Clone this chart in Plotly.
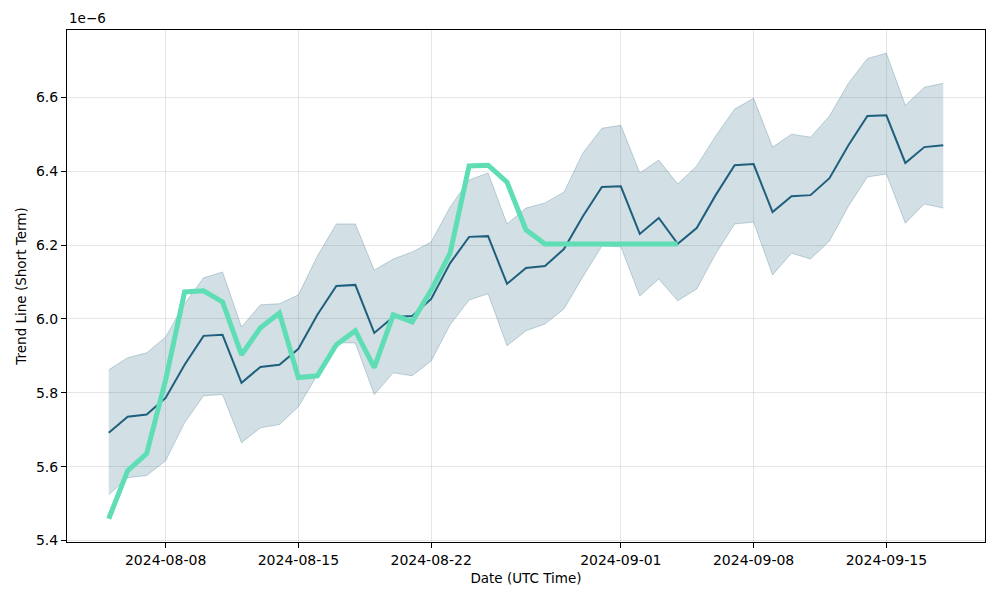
import pandas as pd
import plotly.graph_objects as go

dates = pd.date_range("2024-08-05", "2024-09-18", freq="D")

trend_mean = [5.692, 5.735, 5.741, 5.786, 5.876, 5.954, 5.957, 5.827, 5.870, 5.876,
              5.919, 6.011, 6.089, 6.092, 5.962, 6.005, 6.008, 6.054, 6.151, 6.222,
              6.224, 6.095, 6.138, 6.143, 6.189, 6.278, 6.357, 6.359, 6.230, 6.273,
              6.203, 6.246, 6.335, 6.416, 6.419, 6.289, 6.332, 6.335, 6.381, 6.470,
              6.549, 6.551, 6.422, 6.465, 6.470]

trend_upper = [5.862, 5.895, 5.908, 5.951, 6.041, 6.111, 6.127, 5.978, 6.038, 6.041,
               6.065, 6.170, 6.257, 6.257, 6.132, 6.162, 6.181, 6.208, 6.303, 6.376,
               6.395, 6.257, 6.300, 6.314, 6.343, 6.449, 6.516, 6.524, 6.395, 6.430,
               6.365, 6.414, 6.495, 6.568, 6.597, 6.465, 6.500, 6.492, 6.549, 6.638,
               6.705, 6.719, 6.578, 6.627, 6.638]

trend_lower = [5.524, 5.570, 5.576, 5.616, 5.719, 5.792, 5.795, 5.665, 5.705, 5.714,
               5.762, 5.849, 5.935, 5.935, 5.795, 5.854, 5.846, 5.886, 5.984, 6.051,
               6.068, 5.927, 5.968, 5.986, 6.027, 6.114, 6.197, 6.195, 6.062, 6.108,
               6.049, 6.081, 6.176, 6.257, 6.262, 6.119, 6.178, 6.162, 6.211, 6.305,
               6.384, 6.392, 6.259, 6.311, 6.300]

actual = [5.459, 5.589, 5.635, 5.835, 6.073, 6.076, 6.046, 5.903, 5.976, 6.016,
          5.841, 5.846, 5.930, 5.968, 5.868, 6.011, 5.992, 6.078, 6.178, 6.414,
          6.416, 6.370, 6.241, 6.203, 6.203, 6.203, 6.203, 6.203, 6.203, 6.203,
          6.203]

x_ticks = ["2024-08-08", "2024-08-15", "2024-08-22", "2024-09-01", "2024-09-08", "2024-09-15"]
y_ticks = [5.4, 5.6, 5.8, 6.0, 6.2, 6.4, 6.6]

band_edge = "rgba(30,95,125,0.25)"
band_fill = "rgba(30,95,125,0.2)"
dark = "rgb(30,95,125)"
green = "rgb(95,222,182)"
font = "DejaVu Sans"

fig = go.Figure()
fig.add_trace(go.Scatter(x=dates, y=trend_lower, mode="lines",
                         line=dict(color=band_edge, width=1), showlegend=False, hoverinfo="skip"))
fig.add_trace(go.Scatter(x=dates, y=trend_upper, mode="lines", fill="tonexty",
                         fillcolor=band_fill, line=dict(color=band_edge, width=1),
                         showlegend=False, hoverinfo="skip"))
fig.add_trace(go.Scatter(x=dates, y=trend_mean, mode="lines",
                         line=dict(color=dark, width=2), showlegend=False))
fig.add_trace(go.Scatter(x=dates[:len(actual)], y=actual, mode="lines",
                         line=dict(color=green, width=5), showlegend=False))

x0 = pd.Timestamp("2024-08-05") - pd.Timedelta(days=2.2)
x1 = pd.Timestamp("2024-09-18") + pd.Timedelta(days=2.2)

fig.update_layout(
    width=1000, height=600,
    margin=dict(l=67, r=15, t=30, b=58),
    paper_bgcolor="white", plot_bgcolor="white",
    font=dict(family=font, size=14, color="black"),
    xaxis=dict(range=[x0, x1], tickvals=x_ticks, tickformat="%Y-%m-%d",
               automargin=False,
               showline=True, linecolor="black", linewidth=1, mirror=True,
               ticks="outside", ticklen=5, tickcolor="black",
               showgrid=True, gridcolor="rgba(176,176,176,0.32)", gridwidth=1,
               zeroline=False,
               title=dict(text="Date (UTC Time)", font=dict(size=13.5), standoff=6)),
    yaxis=dict(range=[5.396, 6.782], tickvals=y_ticks, tickformat=".1f",
               automargin=False,
               showline=True, linecolor="black", linewidth=1, mirror=True,
               ticks="outside", ticklen=5, tickcolor="black",
               showgrid=True, gridcolor="rgba(176,176,176,0.32)", gridwidth=1,
               zeroline=False,
               title=dict(text="Trend Line (Short Term)", font=dict(size=13.5), standoff=6)),
    annotations=[dict(text="1e\u22126", xref="paper", yref="paper", x=0, y=1,
                      xanchor="left", yanchor="bottom", yshift=2, showarrow=False,
                      font=dict(size=13.5, family=font))],
)

fig.write_html("out.html", config={"displayModeBar": False},
               post_script="document.body.style.margin='0';")
